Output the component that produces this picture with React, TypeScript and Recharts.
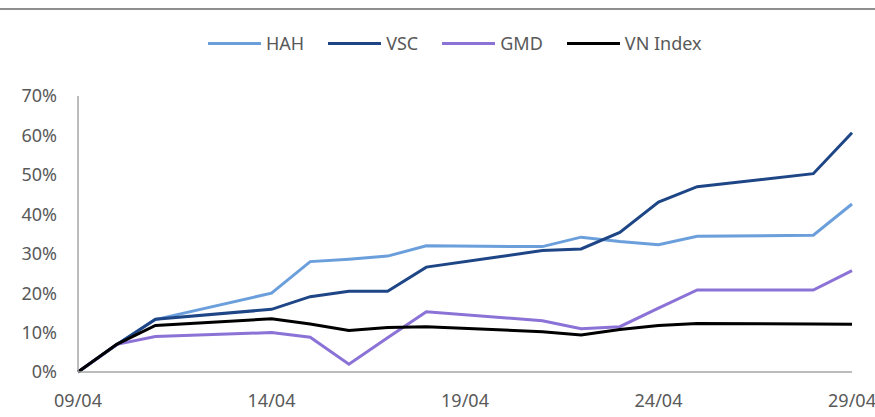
import { LineChart, Line, XAxis, YAxis, Legend } from 'recharts';

// trading days in April
const days = [9, 10, 11, 14, 15, 16, 17, 18, 21, 22, 23, 24, 25, 28, 29];
const hah = [0, 7.0, 13.3, 20.0, 28.0, 28.6, 29.4, 32.0, 31.8, 34.2, 33.1, 32.3, 34.4, 34.7, 42.6];
const vsc = [0, 6.9, 13.4, 15.9, 19.1, 20.5, 20.5, 26.6, 30.8, 31.2, 35.4, 43.1, 47.0, 50.3, 60.7];
const gmd = [0, 7.0, 9.0, 10.0, 8.8, 2.0, 8.7, 15.3, 13.0, 11.0, 11.5, 16.2, 20.8, 20.8, 25.7];
const vnIndex = [0, 7.0, 11.8, 13.5, 12.2, 10.5, 11.3, 11.5, 10.2, 9.4, 10.8, 11.8, 12.3, 12.2, 12.1];

const xTicks = [9, 14, 19, 24, 29];
const yTicks = [0, 10, 20, 30, 40, 50, 60, 70];

const data = days.map((d, i) => ({
  day: d,
  HAH: hah[i],
  VSC: vsc[i],
  GMD: gmd[i],
  'VN Index': vnIndex[i],
}));

const series = [
  { key: 'HAH', color: '#6b9fdc' },
  { key: 'VSC', color: '#1e4686' },
  { key: 'GMD', color: '#8b72d6' },
  { key: 'VN Index', color: '#000000' },
];

const FONT = '"Noto Sans", "Open Sans", sans-serif';
const TEXT = '#595959';

function LegendContent({ payload }: any) {
  const items = series
    .map((s) => (payload || []).find((p: any) => p.value === s.key))
    .filter(Boolean);
  return (
    <div style={{ display: 'flex', alignItems: 'center', fontFamily: FONT, fontSize: 18, color: TEXT }}>
      {items.map((p: any) => (
        <div key={p.value} style={{ display: 'flex', alignItems: 'center', marginRight: 24 }}>
          <div style={{ width: 53, height: 3, background: p.color, marginRight: 5 }} />
          <span>{p.value}</span>
        </div>
      ))}
    </div>
  );
}

export default function App() {
  return (
    <div style={{ position: 'absolute', left: 0, top: 0, width: 875, height: 417, background: '#fff' }}>
      <div style={{ position: 'absolute', left: 0, top: 8, width: 875, borderTop: '2px solid #8f8f8f' }} />
      <LineChart width={875} height={417} data={data} margin={{ top: 72, right: 23, bottom: 0, left: 0 }}>
        <Legend
          verticalAlign="top"
          align="left"
          content={<LegendContent />}
          wrapperStyle={{ left: 208, top: 31, width: 'auto' }}
        />
        <XAxis
          dataKey="day"
          type="number"
          domain={[9, 29]}
          ticks={xTicks}
          tickFormatter={(v: number) => `${String(v).padStart(2, '0')}/04`}
          height={45}
          stroke="#a6a6a6"
          strokeWidth={1.5}
          tickLine={false}
          tickSize={0}
          tickMargin={22}
          tick={{ fill: TEXT, fontSize: 18, fontFamily: FONT }}
        />
        <YAxis
          domain={[0, 70]}
          ticks={yTicks}
          tickFormatter={(v: number) => `${v}%`}
          width={78}
          stroke="#a6a6a6"
          strokeWidth={1.5}
          tickLine={false}
          tickSize={0}
          tickMargin={21}
          tick={{ fill: TEXT, fontSize: 18, fontFamily: FONT }}
        />
        {series.map((s) => (
          <Line
            key={s.key}
            type="linear"
            dataKey={s.key}
            stroke={s.color}
            strokeWidth={3}
            dot={false}
            isAnimationActive={false}
          />
        ))}
      </LineChart>
    </div>
  );
}
